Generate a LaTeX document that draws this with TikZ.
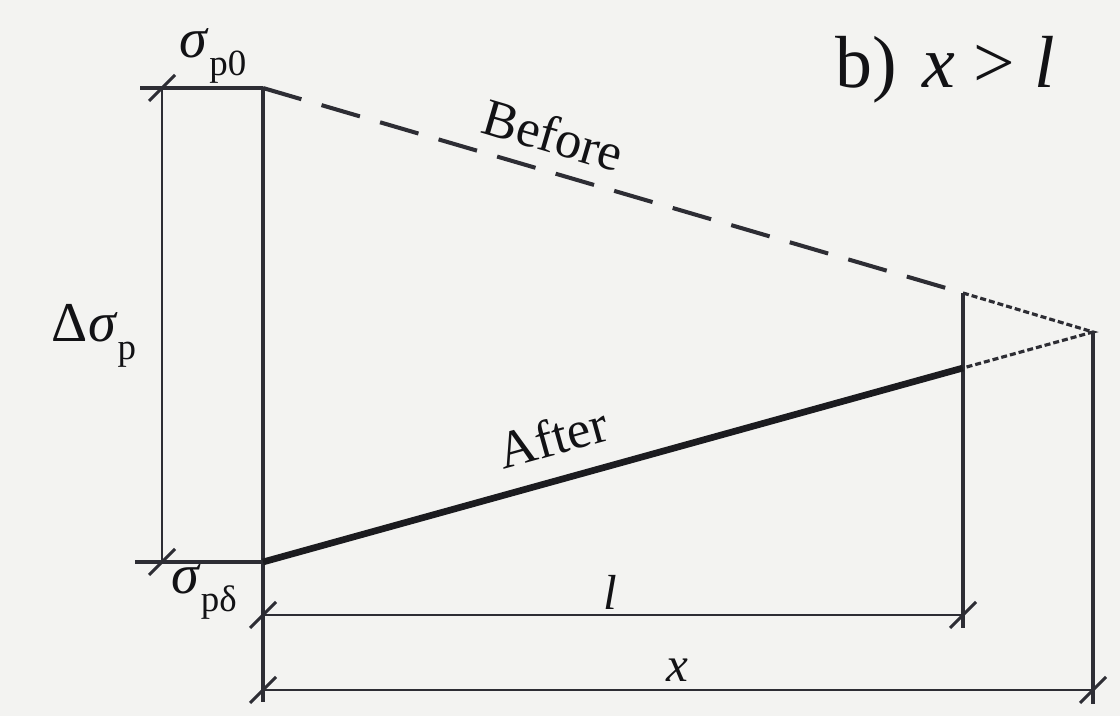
\documentclass[tikz,border=0pt]{standalone}
\usepackage{fontspec}
\setmainfont{Liberation Serif}
\usetikzlibrary{positioning,calc}
\definecolor{paper}{RGB}{243,243,241}
\definecolor{ink}{RGB}{45,45,52}

\newcommand{\sig}{\textit{σ}}
\newcommand{\lowsub}[1]{\raisebox{-0.32em}{\fontsize{21}{22}\selectfont #1}}

\begin{document}
\begin{tikzpicture}[
    x=0.02cm, y=-0.02cm,
    edgeline/.style={draw=ink, line width=1.9pt},
    dimline/.style={draw=ink, line width=1.7pt},
    beforeline/.style={draw=ink, line width=2.3pt, dash pattern=on 0.8cm off 0.42cm},
    extendline/.style={draw=ink, line width=1.8pt, dash pattern=on 0.12cm off 0.06cm},
    afterline/.style={draw=ink!60!black, line width=3.8pt},
    lbl/.style={text=ink!40!black, inner sep=0pt, font=\fontsize{32}{34}\selectfont},
    slopelbl/.style={lbl, sloped, font=\fontsize{30}{32}\selectfont},
    slash/.pic={\draw[ink, line width=1.8pt] (-13,13) -- (13,-13);}
]
\useasboundingbox[fill=paper] (0,0) rectangle (1120,716);

% Points
\coordinate (topL) at (140,88);
\coordinate (p0) at (263,88);
\coordinate (botL) at (135,562);
\coordinate (pd) at (263,562);
\coordinate (dimT) at (162,88);
\coordinate (dimB) at (162,562);
\coordinate (base) at (263,702);
\coordinate (lEnd) at (963,293);
\coordinate (aEnd) at (963,368);
\coordinate (xEnd) at (1093,332);
\coordinate (lFoot) at (963,628);
\coordinate (xFoot) at (1093,704);
\coordinate (l0) at (263,615);
\coordinate (l1) at (963,615);
\coordinate (x0) at (263,690);
\coordinate (x1) at (1093,690);

% Outline
\draw[edgeline] (topL) -- (p0);
\draw[edgeline] (botL) -- (pd);
\draw[edgeline] (p0) -- (base);
\draw[edgeline] (lEnd) -- (lFoot);
\draw[edgeline] (xEnd) -- (xFoot);

% Stress lines
\draw[beforeline] (p0) -- node[slopelbl, pos=0.40, above=9pt] (before) {Before} (lEnd);
\draw[afterline] (pd) -- node[slopelbl, pos=0.43, above=12pt] (after) {After} (aEnd);
\draw[extendline] (lEnd) -- (xEnd) -- (aEnd);

% Dimensions
\draw[dimline] (dimT) -- (dimB);
\draw[dimline] (l0) -- (l1);
\draw[dimline] (x0) -- (x1);
\foreach \p in {dimT,dimB,l0,l1,x0,x1}
    \pic at (\p) {slash};

% Labels
\node[lbl] (sp0) at (213,56) {\sig\lowsub{p0}};
\node[lbl] (spd) at (204,592) {\sig\lowsub{pδ}};
\node[lbl] (dsp) at (94,336) {Δ\sig\lowsub{p}};
\node[lbl, font=\fontsize{28}{30}\selectfont] (llbl) at (610,592) {\textit{l}};
\node[lbl, font=\fontsize{28}{30}\selectfont] (xlbl) at (677,670) {\textit{x}};
\node[lbl, font=\fontsize{42}{44}\selectfont] (case) at (945,70) {b)\hspace{0.35em}\textit{x} > \textit{l}};

\end{tikzpicture}
\end{document}
